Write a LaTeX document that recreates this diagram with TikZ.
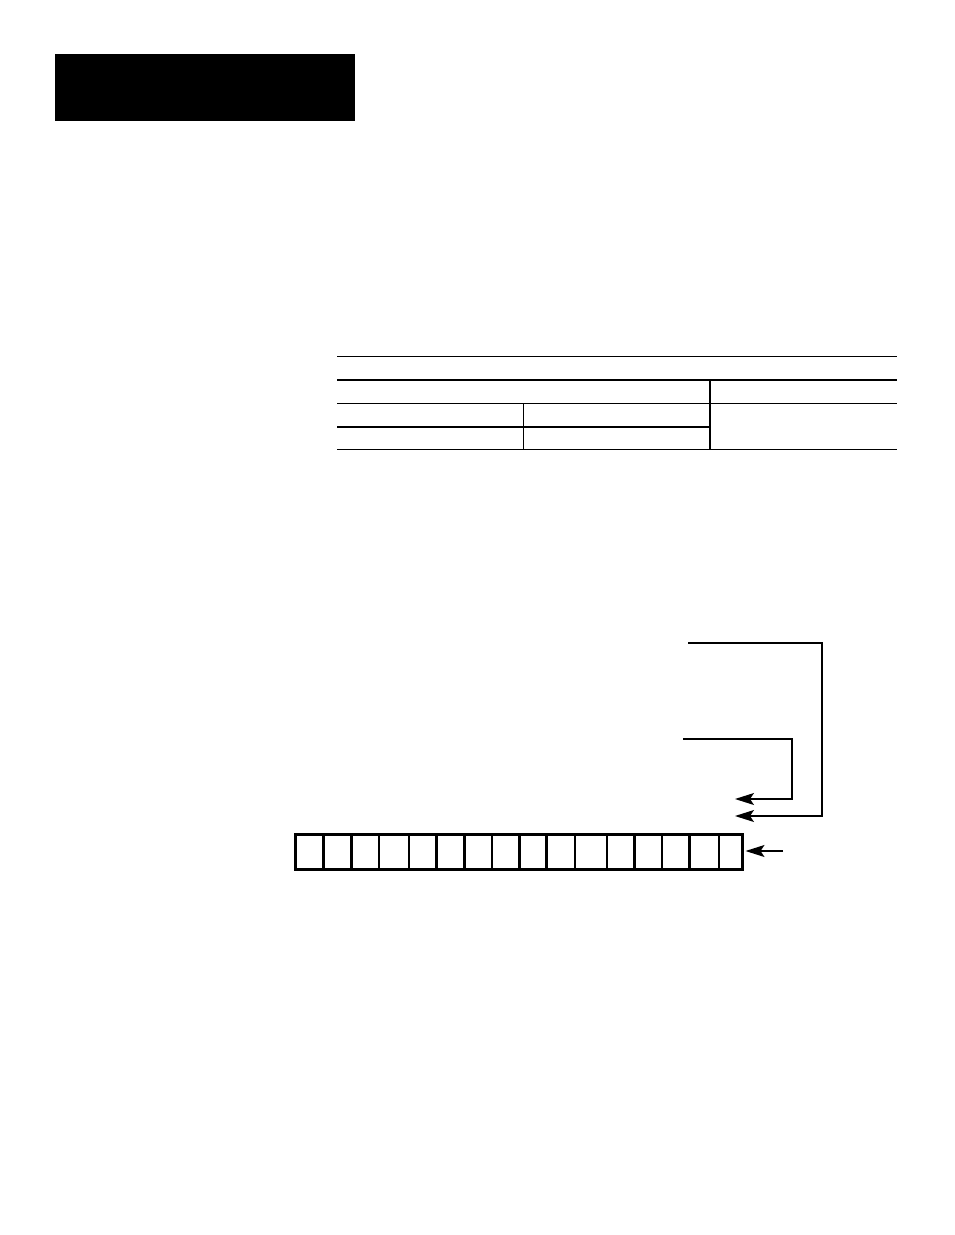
\documentclass[tikz,border=0pt]{standalone}
\usetikzlibrary{arrows.meta}
\begin{document}
\begin{tikzpicture}[x=1pt,y=-1pt,
  rule/.style={line width=1.4pt},
  thickrule/.style={line width=2.8pt},
  cell/.style={draw,line width=2.5pt,inner sep=0pt,minimum height=35pt,anchor=west},
  conn/.style={line width=1.4pt,-{Stealth[length=19pt,width=12pt,inset=4pt]}}]
\useasboundingbox (0,0) rectangle (954,1235);
% black header block
\node[fill=black,draw=none,inner sep=0pt,minimum width=300pt,minimum height=67pt,anchor=north west] (hdr) at (55,54) {};
% table
\draw[rule] (337,356.5) -- (897,356.5);
\draw[thickrule] (337,380) -- (897,380);
\draw[rule] (337,403.5) -- (897,403.5);
\draw[rule] (337,427) -- (710,427);
\draw[rule] (337,449.5) -- (897,449.5);
\draw[rule] (710,380) -- (710,449.5);
\draw[rule] (523.5,403.5) -- (523.5,449.5);
% register cells
\foreach \a/\b [count=\i] in {294/322,322/350,350/377.5,377.5/407.5,407.5/435,435/463,463/490.5,490.5/518,518/545,545/573.5,573.5/605.5,605.5/633,633/660.5,660.5/688,688/717.5,717.5/741}{
  \pgfmathsetmacro{\w}{\b-\a}
  \node[cell,minimum width=\w pt] (c\i) at (\a,852) {};
}
% connectors
\coordinate (s1) at (688,643);
\coordinate (t1) at (735,816);
\coordinate (s2) at (683,739);
\coordinate (t2) at (735,799);
\coordinate (s3) at (783,851);
\draw[conn] (s1) -- (822,643) -- (822,816) -- (t1);
\draw[conn] (s2) -- (792,739) -- (792,799) -- (t2);
\draw[conn] (s3) -- ([xshift=2pt]c16.east |- s3);
\end{tikzpicture}
\end{document}
